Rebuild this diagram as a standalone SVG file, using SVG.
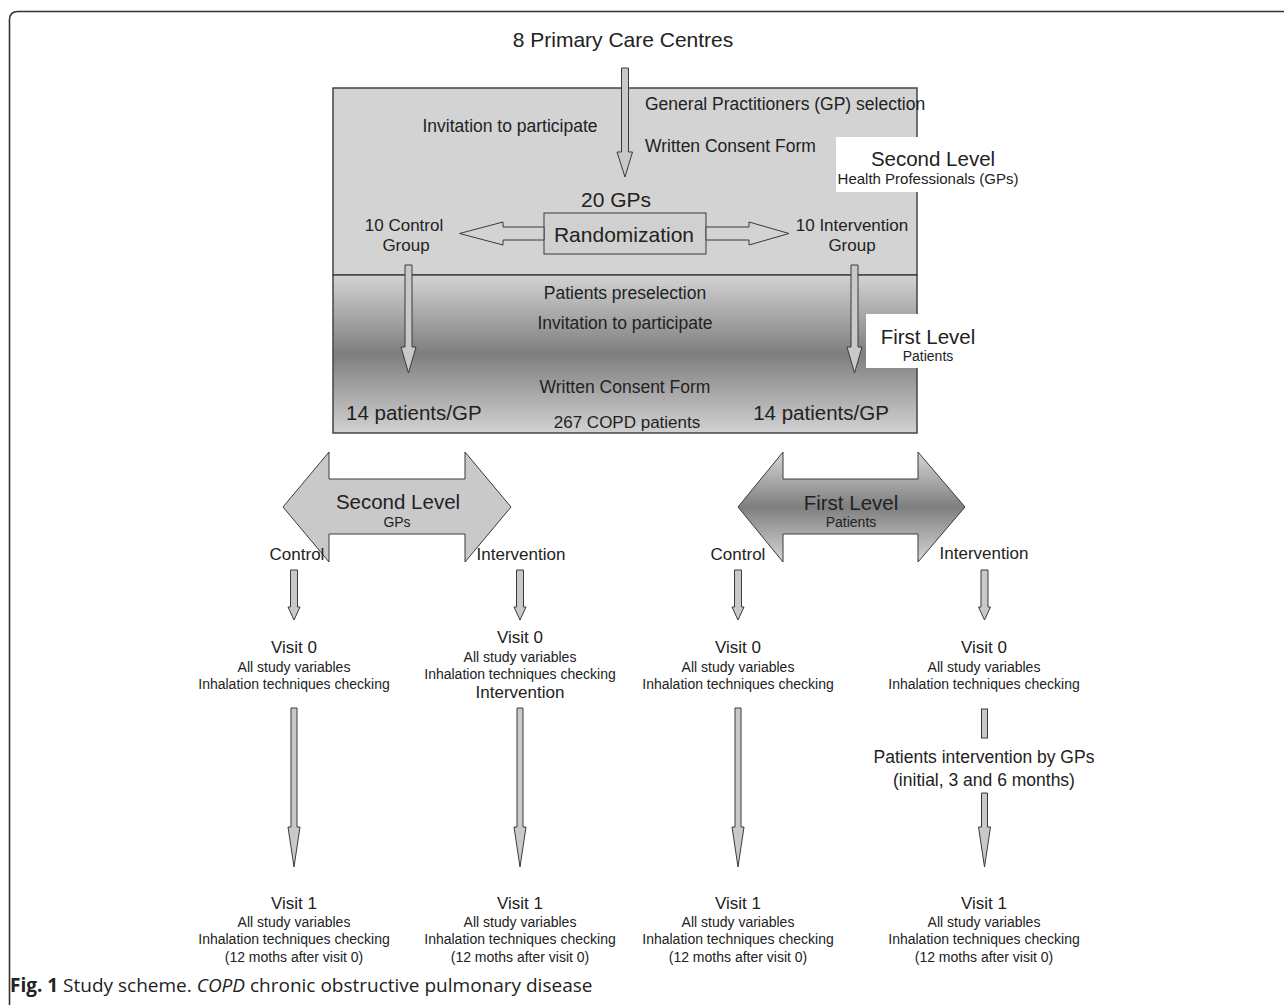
<svg xmlns="http://www.w3.org/2000/svg" width="1284" height="1005" viewBox="0 0 1284 1005">
<defs>
<linearGradient id="gLow" x1="0" y1="0" x2="0" y2="1">
<stop offset="0" stop-color="#d3d3d3"/>
<stop offset="0.5" stop-color="#7e7e7e"/>
<stop offset="1" stop-color="#d2d2d2"/>
</linearGradient>
<linearGradient id="gArr" x1="0" y1="0" x2="0" y2="1">
<stop offset="0" stop-color="#d6d6d6"/>
<stop offset="0.5" stop-color="#7f7f7f"/>
<stop offset="1" stop-color="#d6d6d6"/>
</linearGradient>
<style>
text{font-family:"Liberation Sans",Arial,sans-serif;fill:#222;}
.m{text-anchor:middle;}
.f175{font-size:17.5px;}
.f17{font-size:17px;}
.f14{font-size:14px;}
.f21{font-size:21px;}
.f20{font-size:20.5px;}
.arr{fill:#c9c9c9;stroke:#3a3a3a;stroke-width:1;}
.box{stroke:#444;stroke-width:1.5;}
.cap{font-family:"Open Sans","Noto Sans",sans-serif;font-size:19px;fill:#222;}
</style>
</defs>
<rect width="1284" height="1005" fill="#fff"/>
<path d="M9.5,1005 V20 Q9.5,11.5 18,11.5 H1284" fill="none" stroke="#333" stroke-width="1.6"/>

<g id="title"><text class="m f21" x="623" y="47">8 Primary Care Centres</text></g>

<g id="mainbox">
<rect x="333" y="88" width="584" height="187" fill="#d3d3d3" class="box"/>
<rect x="333" y="275" width="584" height="158" fill="url(#gLow)" class="box"/>
<text class="f175" x="645" y="110">General Practitioners (GP) selection</text>
<text class="m f175" x="510" y="132">Invitation to participate</text>
<text class="f175" x="645" y="152">Written Consent Form</text>
<text class="m f21" x="616" y="207">20 GPs</text>
<text class="m f17" x="404" y="231">10 Control</text>
<text class="m f17" x="406" y="251">Group</text>
<text class="m f17" x="852" y="231">10 Intervention</text>
<text class="m f17" x="852" y="251">Group</text>
<text class="m f175" x="625" y="299">Patients preselection</text>
<text class="m f175" x="625" y="329">Invitation to participate</text>
<text class="m f175" x="625" y="393">Written Consent Form</text>
<text class="f20" x="346" y="420">14 patients/GP</text>
<text class="m f20" x="821" y="420">14 patients/GP</text>
<text class="m f17" x="627" y="428">267 COPD patients</text>
</g>

<g id="rand">
<rect x="544" y="213" width="162" height="41" fill="#d0d0d0" stroke="#3a3a3a" stroke-width="1"/>
<text class="m f21" x="624" y="242">Randomization</text>
</g>

<g id="label-second">
<rect x="836" y="137" width="194" height="55" fill="#fff"/>
<text class="m f20" x="933" y="166">Second Level</text>
<text class="m" style="font-size:15px" x="928" y="184">Health Professionals (GPs)</text>
</g>
<g id="label-first">
<rect x="866" y="314" width="164" height="54" fill="#fff"/>
<text class="m f20" x="928" y="344">First Level</text>
<text class="m f14" x="928" y="361">Patients</text>
</g>

<g id="connectors">
<path class="arr" d="M621.5,68 H628.5 V152 H632.5 L625,177 L617,152 H621.5 Z"/>
<path class="arr" style="fill:#d3d3d3" d="M544,227 H503 V222 L459.5,233.5 L503,245 V240 H544 Z"/>
<path class="arr" style="fill:#d3d3d3" d="M706,227 H749 V222 L789,233.5 L749,245 V240 H706 Z"/>
<path class="arr" d="M405,265 H412 V347 H416 L408.5,373 L401,347 H405 Z"/>
<path class="arr" d="M851,265 H858 V347 H862 L854.5,373 L847,347 H851 Z"/>
<path class="arr" d="M290.5,570 H297.5 V607 H300 L294,620 L288,607 H290.5 Z"/>
<path class="arr" d="M516.5,570 H523.5 V607 H526 L520,620 L514,607 H516.5 Z"/>
<path class="arr" d="M734.5,570 H741.5 V607 H744 L738,620 L732,607 H734.5 Z"/>
<path class="arr" d="M981,570 H988 V607 H990.5 L984.5,620 L978.5,607 H981 Z"/>
<path class="arr" d="M291,708 H297 V827 H300 L294,867 L288,827 H291 Z"/>
<path class="arr" d="M517,708 H523 V827 H526 L520,867 L514,827 H517 Z"/>
<path class="arr" d="M735,708 H741 V827 H744 L738,867 L732,827 H735 Z"/>
<rect class="arr" x="981.5" y="709" width="6" height="29"/>
<path class="arr" d="M981.5,793 H987.5 V827 H990.5 L984.5,867 L978.5,827 H981.5 Z"/>
</g>

<g id="arrow-second">
<path class="arr" d="M283,507 L329,452 V479 H465 V452 L511,507 L465,562 V534 H329 V562 Z"/>
<text class="m f20" x="398" y="509">Second Level</text>
<text class="m f14" x="397" y="527">GPs</text>
</g>
<g id="arrow-first">
<path class="arr" style="fill:url(#gArr)" d="M738,507 L783,452 V479 H918 V452 L965,507 L918,562 V534 H783 V562 Z"/>
<text class="m f20" x="851" y="510">First Level</text>
<text class="m f14" x="851" y="527">Patients</text>
</g>

<g id="branch-labels">
<text class="m f17" x="297" y="560">Control</text>
<text class="m f17" x="521" y="560">Intervention</text>
<text class="m f17" x="738" y="560">Control</text>
<text class="m f17" x="984" y="559">Intervention</text>
</g>

<g id="visit0-c1">
<text class="m f17" x="294" y="653">Visit 0</text>
<text class="m f14" x="294" y="672">All study variables</text>
<text class="m f14" x="294" y="689">Inhalation techniques checking</text>
</g>
<g id="visit0-c2">
<text class="m f17" x="520" y="643">Visit 0</text>
<text class="m f14" x="520" y="662">All study variables</text>
<text class="m f14" x="520" y="679">Inhalation techniques checking</text>
<text class="m f17" x="520" y="698">Intervention</text>
</g>
<g id="visit0-c3">
<text class="m f17" x="738" y="653">Visit 0</text>
<text class="m f14" x="738" y="672">All study variables</text>
<text class="m f14" x="738" y="689">Inhalation techniques checking</text>
</g>
<g id="visit0-c4">
<text class="m f17" x="984" y="653">Visit 0</text>
<text class="m f14" x="984" y="672">All study variables</text>
<text class="m f14" x="984" y="689">Inhalation techniques checking</text>
</g>
<g id="pat-int">
<text class="m f175" x="984" y="763">Patients intervention by GPs</text>
<text class="m f175" x="984" y="786">(initial, 3 and 6 months)</text>
</g>

<g id="visit1-c1">
<text class="m f17" x="294" y="909">Visit 1</text>
<text class="m f14" x="294" y="927">All study variables</text>
<text class="m f14" x="294" y="944">Inhalation techniques checking</text>
<text class="m f14" x="294" y="962">(12 moths after visit 0)</text>
</g>
<g id="visit1-c2">
<text class="m f17" x="520" y="909">Visit 1</text>
<text class="m f14" x="520" y="927">All study variables</text>
<text class="m f14" x="520" y="944">Inhalation techniques checking</text>
<text class="m f14" x="520" y="962">(12 moths after visit 0)</text>
</g>
<g id="visit1-c3">
<text class="m f17" x="738" y="909">Visit 1</text>
<text class="m f14" x="738" y="927">All study variables</text>
<text class="m f14" x="738" y="944">Inhalation techniques checking</text>
<text class="m f14" x="738" y="962">(12 moths after visit 0)</text>
</g>
<g id="visit1-c4">
<text class="m f17" x="984" y="909">Visit 1</text>
<text class="m f14" x="984" y="927">All study variables</text>
<text class="m f14" x="984" y="944">Inhalation techniques checking</text>
<text class="m f14" x="984" y="962">(12 moths after visit 0)</text>
</g>

<g id="caption">
<text class="cap" x="10" y="992"><tspan font-weight="bold">Fig. 1</tspan> Study scheme. <tspan font-style="italic">COPD</tspan> chronic obstructive pulmonary disease</text>
</g>
</svg>
